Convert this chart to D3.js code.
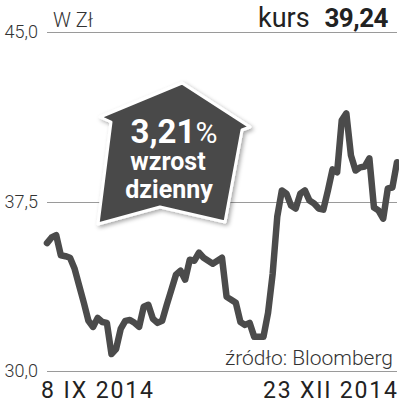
<!DOCTYPE html>
<html>
<head>
<meta charset="utf-8">
<script src="https://cdn.jsdelivr.net/npm/d3@7"></script>
<style>
  body { margin: 0; background: #fff; }
  svg { display: block; font-family: Roboto, "Noto Sans", sans-serif; }
</style>
</head>
<body>
<svg id="chart"></svg>
<script>
(function() {

const W = 399, H = 404;

// session index (trading days from 8 IX 2014 to 23 XII 2014) and closing price
const sessions = d3.range(77);
const prices = [
  35.66, 35.91, 36.01, 35.12, 35.08, 35.01, 34.52, 33.77, 33.02, 32.22,
  31.95, 32.35, 32.17, 32.13, 30.75, 30.97, 31.86, 32.22, 32.26, 32.13,
  31.95, 32.84, 32.93, 32.31, 32.13, 32.22, 32.93, 33.59, 34.26, 34.44,
  34.04, 34.92, 34.88, 35.24, 35.01, 34.88, 34.75, 34.88, 35.01, 33.28,
  33.15, 33.02, 32.17, 32.04, 32.13, 31.51, 31.51, 31.51, 32.57, 34.30,
  36.83, 37.99, 37.85, 37.32, 37.19, 37.85, 37.99, 37.54, 37.41, 37.19,
  37.14, 37.99, 38.92, 38.79, 41.09, 41.40, 39.54, 38.87, 39.01, 39.05,
  39.41, 37.23, 37.10, 36.74, 38.08, 38.12, 39.24
];
const yTicks = [30, 37.5, 45];
const dateLabels = ["8 IX 2014", "23 XII 2014"];
const lastPrice = "39,24";
const dailyChange = "3,21";

const svg = d3.select("#chart")
    .attr("width", W)
    .attr("height", H);

const margin = { top: 32, right: 2, bottom: 33, left: 47 };

const x = d3.scaleLinear()
  .domain([0, sessions.length - 1])
  .range([margin.left, W - margin.right]);

const y = d3.scaleLinear()
  .domain([30, 45])
  .range([H - margin.bottom, margin.top]);

const fmt = d => d3.format(".1f")(d).replace(".", ",");

// gridlines
svg.append("g")
  .selectAll("line")
  .data(yTicks)
  .enter().append("line")
    .attr("x1", margin.left)
    .attr("x2", W - margin.right)
    .attr("y1", d => Math.round(y(d)) + 0.5)
    .attr("y2", d => Math.round(y(d)) + 0.5)
    .attr("stroke", "#9a9a9a")
    .attr("stroke-width", 1);

svg.append("g")
  .selectAll("text")
  .data(yTicks)
  .enter().append("text")
    .attr("x", 38)
    .attr("y", d => y(d) + 6)
    .attr("text-anchor", "end")
    .style("font-size", "18px")
    .style("font-weight", 300)
    .attr("fill", "#333")
    .text(fmt);

// header
svg.append("text")
  .attr("x", 53).attr("y", 27)
  .style("font-size", "20px").style("font-weight", 300)
  .attr("fill", "#333")
  .text("W Zł");

svg.append("text")
  .attr("x", 258).attr("y", 27)
  .style("font-size", "27px")
  .attr("fill", "#222")
  .text("kurs");
svg.append("text")
  .attr("x", 388).attr("y", 27)
  .attr("text-anchor", "end")
  .style("font-size", "26px").style("font-weight", 700)
  .style("letter-spacing", "-0.5px")
  .attr("fill", "#222")
  .text(lastPrice);

// price line
const line = d3.line()
  .x((d, i) => x(sessions[i]))
  .y(d => y(d));

svg.append("path")
  .datum(prices)
  .attr("fill", "none")
  .attr("stroke", "#4b4b4b")
  .attr("stroke-width", 6.5)
  .attr("stroke-linejoin", "round")
  .attr("stroke-linecap", "round")
  .attr("d", line);

// source
svg.append("text")
  .attr("x", 393).attr("y", 365)
  .attr("text-anchor", "end")
  .style("font-size", "21px").style("font-weight", 300)
  .attr("fill", "#333")
  .text("źródło: Bloomberg");

// date labels
svg.append("text")
  .attr("x", 41).attr("y", 398)
  .style("font-size", "23px")
  .attr("textLength", 112)
  .attr("fill", "#222")
  .text(dateLabels[0]);
svg.append("text")
  .attr("x", 263).attr("y", 398)
  .style("font-size", "23px")
  .attr("textLength", 134)
  .attr("fill", "#222")
  .text(dateLabels[1]);

// badge (house-shaped arrow)
const defs = svg.append("defs");
const f = defs.append("filter").attr("id", "shadow")
  .attr("x", "-20%").attr("y", "-20%").attr("width", "140%").attr("height", "140%");
f.append("feDropShadow")
  .attr("dx", 2).attr("dy", 2).attr("stdDeviation", 2)
  .attr("flood-color", "#000").attr("flood-opacity", 0.35);

const house = [
  [100, 117], [182, 83], [250, 127], [242, 130],
  [225, 222], [160, 207], [98, 224], [111, 122]
];
svg.append("path")
  .attr("d", d3.line()(house) + "Z")
  .attr("fill", "#4a4a4a")
  .attr("stroke", "#fff")
  .attr("stroke-width", 3)
  .attr("stroke-linejoin", "round")
  .attr("filter", "url(#shadow)");

const t1 = svg.append("text")
  .attr("x", 174).attr("y", 143)
  .attr("text-anchor", "middle")
  .attr("fill", "#fff");
t1.append("tspan").style("font-size", "33px").style("font-weight", 700).text(dailyChange);
t1.append("tspan").style("font-size", "30px").style("font-weight", 400).text("%");

svg.append("text")
  .attr("x", 168).attr("y", 170)
  .attr("text-anchor", "middle")
  .attr("fill", "#fff")
  .style("font-size", "25px").style("font-weight", 700)
  .text("wzrost");
svg.append("text")
  .attr("x", 169).attr("y", 198)
  .attr("text-anchor", "middle")
  .attr("fill", "#fff")
  .style("font-size", "25px").style("font-weight", 700)
  .text("dzienny");

})();
</script>
</body>
</html>
